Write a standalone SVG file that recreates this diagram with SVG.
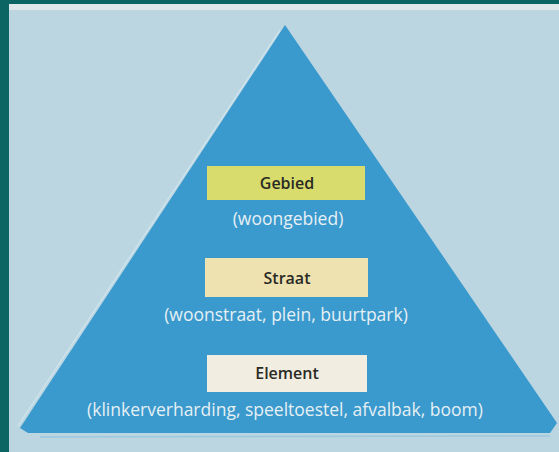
<svg xmlns="http://www.w3.org/2000/svg" width="559" height="452" viewBox="0 0 559 452">
<style>
.box{stroke:none}
.title{font-family:"Open Sans","Noto Sans",sans-serif;font-weight:600;font-size:16px;fill:#2a2a25;text-anchor:middle}
.sub{font-family:"Open Sans","Noto Sans",sans-serif;font-size:17.5px;fill:#e6f0f4;text-anchor:middle}
</style>
<rect x="0" y="0" width="559" height="452" fill="#0b6663"/>
<rect x="9" y="4" width="550" height="448" fill="#bcd6e1"/>
<rect x="9" y="4" width="550" height="6" fill="#dfe8ea"/>
<g id="pyramid">
<polygon points="285,25 557,423 550,433 28,433 20,428" fill="#3a99cd"/>
<polyline points="280,30 18,426" fill="none" stroke="#cfe6ef" stroke-width="1.5" opacity="0.8"/>
<polyline points="40,437 550,436" fill="none" stroke="#8fc2dc" stroke-width="1.5" opacity="0.7"/>
</g>
<g id="gebied">
<rect class="box" x="207" y="166" width="158" height="34" fill="#d8dc6c"/>
<text class="title" x="287" y="189">Gebied</text>
<text class="sub" x="288" y="225">(woongebied)</text>
</g>
<g id="straat">
<rect class="box" x="205" y="258" width="163" height="39" fill="#eee2b0"/>
<text class="title" x="287" y="284">Straat</text>
<text class="sub" x="286" y="321">(woonstraat, plein, buurtpark)</text>
</g>
<g id="element">
<rect class="box" x="207" y="355" width="160" height="37" fill="#f1ede0"/>
<text class="title" x="287" y="379">Element</text>
<text class="sub" x="285" y="416">(klinkerverharding, speeltoestel, afvalbak, boom)</text>
</g>
<g id="connectors"/>
</svg>
